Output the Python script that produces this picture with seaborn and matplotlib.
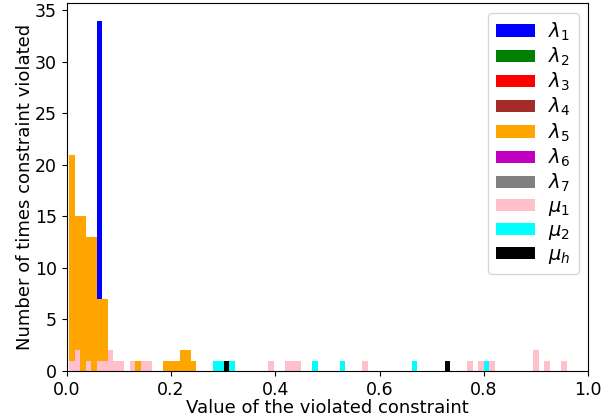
import numpy as np
import pandas as pd
import matplotlib
matplotlib.use("Agg")
import matplotlib.pyplot as plt
from matplotlib.patches import Patch
import seaborn as sns

# Bin grid (common to all series)
bin_start = 0.0044
bin_width = 0.0106
n_bins = 91

labels = [r"$\lambda_1$", r"$\lambda_2$", r"$\lambda_3$", r"$\lambda_4$", r"$\lambda_5$",
          r"$\lambda_6$", r"$\lambda_7$", r"$\mu_1$", r"$\mu_2$", r"$\mu_h$"]
colors = ["blue", "green", "red", "brown", "orange", "m", "gray", "pink", "cyan", "black"]

# counts per bin index (bin index -> number of violations)
lam1 = {5: 34}
lam2 = {}
lam3 = {}
lam4 = {}
lam5 = {0: 21, 1: 15, 2: 15, 3: 13, 4: 13, 5: 7, 6: 7, 12: 1,
        17: 1, 18: 1, 19: 1, 20: 2, 21: 2, 22: 1}
lam6 = {}
lam7 = {}
mu1 = {0: 1, 1: 2, 3: 1, 5: 1, 6: 1, 7: 2, 8: 1, 9: 1, 11: 1, 13: 1, 14: 1,
       36: 1, 39: 1, 40: 1, 41: 1, 53: 1, 72: 1, 74: 1, 76: 1, 84: 2, 86: 1, 89: 1}
mu2 = {26: 1, 27: 1, 29: 1, 44: 1, 49: 1, 62: 1, 75: 1}
muh = {28: 1, 68: 1}

series = [lam1, lam2, lam3, lam4, lam5, lam6, lam7, mu1, mu2, muh]

edges = [bin_start + bin_width * i for i in range(n_bins + 1)]
centers = [(edges[i] + edges[i + 1]) / 2 for i in range(n_bins)]

fig = plt.figure(figsize=(6.08, 4.17), dpi=100)
ax = fig.add_axes([0.1097, 0.1103, 0.8579, 0.8825])

for data, col, lab in zip(series, colors, labels):
    if not data:
        continue
    idx = sorted(data)
    df = pd.DataFrame({"x": [centers[i] for i in idx], "w": [float(data[i]) for i in idx]})
    sns.histplot(data=df, x="x", weights="w", bins=edges, color=col, alpha=1,
                 linewidth=0, ax=ax, stat="count")

ax.set_xlim(0, 1.0)
ax.set_ylim(0, 35.7)
ax.set_yticks(np.arange(0, 36, 5))
ax.set_xticks(np.arange(0, 1.01, 0.2))
ax.tick_params(labelsize=12.5)
ax.set_xlabel("Value of the violated constraint", fontsize=13, labelpad=0)
ax.set_ylabel("Number of times constraint violated", fontsize=13, labelpad=1)

handles = [Patch(facecolor=c, edgecolor="none", label=l) for c, l in zip(colors, labels)]
ax.legend(handles=handles, loc="upper right", fontsize=14, handlelength=2.0,
          handleheight=0.6, labelspacing=0.15, handletextpad=0.7)

fig.savefig("out.png", dpi=100)
